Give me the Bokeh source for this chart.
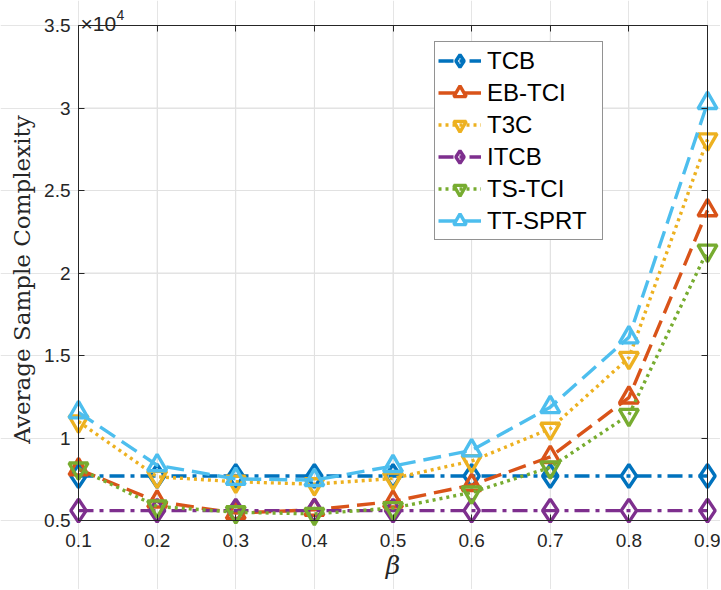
from bokeh.plotting import figure
from bokeh.models import LinearAxis, FixedTicker, Legend, LegendItem, Label, Range1d
from bokeh.embed import file_html
from bokeh.resources import INLINE

# ---------------- data ----------------
beta = [0.1, 0.2, 0.3, 0.4, 0.5, 0.6, 0.7, 0.8, 0.9]
# average sample complexity, in units of 10^4
tcb = [0.77, 0.77, 0.77, 0.77, 0.77, 0.77, 0.77, 0.77, 0.77]
eb_tci = [0.81, 0.615, 0.545, 0.565, 0.615, 0.715, 0.885, 1.245, 2.38]
t3c = [1.10, 0.765, 0.735, 0.72, 0.755, 0.86, 1.056, 1.486, 2.81]
itcb = [0.56, 0.56, 0.56, 0.56, 0.56, 0.56, 0.56, 0.56, 0.56]
ts_tci = [0.815, 0.585, 0.55, 0.54, 0.575, 0.67, 0.822, 1.14, 2.136]
tt_sprt = [1.155, 0.835, 0.752, 0.745, 0.83, 0.925, 1.187, 1.61, 3.03]

series_names = ["TCB", "EB-TCI", "T3C", "ITCB", "TS-TCI", "TT-SPRT"]
series_values = [tcb, eb_tci, t3c, itcb, ts_tci, tt_sprt]

x_ticks = [0.1, 0.2, 0.3, 0.4, 0.5, 0.6, 0.7, 0.8, 0.9]
x_tick_labels = ["0.1", "0.2", "0.3", "0.4", "0.5", "0.6", "0.7", "0.8", "0.9"]
y_ticks = [0.5, 1.0, 1.5, 2.0, 2.5, 3.0, 3.5]
y_tick_labels = ["0.5", "1", "1.5", "2", "2.5", "3", "3.5"]
x_label = "β"
y_label = "Average Sample Complexity"
exp_base = "×10"
exp_power = "4"

# ---------------- styles / layout ----------------
colors = ["#0072BD", "#D95319", "#EDB120", "#7E2F8E", "#77AC30", "#4DBEEE"]
dashes = ["15 6 4 6", "18 8", "3 4", "15 6 4 6", "3 4", "18 8"]
markers = ["diamond", "triangle", "inverted_triangle", "diamond", "inverted_triangle", "triangle"]
msizes = [23, 19, 19, 23, 19, 19]
AX = "#262626"
GRID = "#e1e1e1"
LW = 3.4

W, H = 720, 589
BOX_L, BOX_R, BOX_T, BOX_B = 78, 707, 25, 520   # pixel box of the axes

x0, x1 = x_ticks[0], x_ticks[-1]
y0, y1 = y_ticks[0], y_ticks[-1]
ppx = (BOX_R - BOX_L) / (x1 - x0)
ppy = (BOX_B - BOX_T) / (y1 - y0)
x_range = Range1d(x0 - BOX_L / ppx, x1 + (W - BOX_R) / ppx)
y_range = Range1d(y0 - (H - BOX_B) / ppy, y1 + BOX_T / ppy)

p = figure(frame_width=W, frame_height=H, x_range=x_range, y_range=y_range,
           min_border_left=0, min_border_right=0, min_border_top=0, min_border_bottom=0,
           output_backend="svg", toolbar_location=None,
           x_axis_location=None, y_axis_location=None)
p.outline_line_color = None
p.background_fill_color = "white"
p.border_fill_color = "white"

# grid lines restricted to the axes box
p.segment(x0=x_ticks, y0=[y0] * len(x_ticks), x1=x_ticks, y1=[y1] * len(x_ticks),
          line_color=GRID, line_width=1)
p.segment(x0=[x0] * len(y_ticks), y0=y_ticks, x1=[x1] * len(y_ticks), y1=y_ticks,
          line_color=GRID, line_width=1)


def style_axis(ax, ticks, labels, show_labels):
    ax.ticker = FixedTicker(ticks=ticks)
    ax.major_label_overrides = {t: l for t, l in zip(ticks, labels)}
    ax.axis_line_color = AX
    ax.axis_line_width = 1
    ax.major_tick_line_color = AX
    ax.major_tick_line_width = 1
    ax.major_tick_in = 6
    ax.major_tick_out = 0
    ax.minor_tick_line_color = None
    ax.minor_tick_in = 0
    ax.minor_tick_out = 0
    if show_labels:
        ax.major_label_text_font = "Liberation Sans"
        ax.major_label_text_font_size = "19px"
        ax.major_label_text_color = AX
    else:
        ax.major_label_text_font_size = "0px"
        ax.major_label_text_color = None
        ax.major_label_standoff = 0


bottom = LinearAxis(bounds=(x0, x1), fixed_location=y0)
style_axis(bottom, x_ticks, x_tick_labels, True)
bottom.major_label_standoff = 13
bottom.axis_label = x_label
bottom.axis_label_text_font = "DejaVu Serif"
bottom.axis_label_text_font_style = "italic"
bottom.axis_label_text_font_size = "25px"
bottom.axis_label_text_color = AX
bottom.axis_label_standoff = 1
p.add_layout(bottom, "below")

left = LinearAxis(bounds=(y0, y1), fixed_location=x0)
style_axis(left, y_ticks, y_tick_labels, True)
left.major_label_standoff = 8
p.add_layout(left, "left")

# y-axis title carried by a bare axis (no line, ticks or labels)
ytitle = LinearAxis(bounds=(y0 - 0.08, y1), fixed_location=x0)
ytitle.ticker = FixedTicker(ticks=[])
ytitle.axis_line_color = None
ytitle.major_tick_line_color = None
ytitle.minor_tick_line_color = None
ytitle.major_tick_in = 0
ytitle.major_tick_out = 0
ytitle.minor_tick_in = 0
ytitle.minor_tick_out = 0
ytitle.major_label_text_font_size = "0px"
ytitle.major_label_standoff = 0
ytitle.axis_label = y_label
ytitle.axis_label_text_font = "DejaVu Serif"
ytitle.axis_label_text_font_style = "normal"
ytitle.axis_label_text_font_size = "23px"
ytitle.axis_label_text_color = AX
ytitle.axis_label_standoff = 44
p.add_layout(ytitle, "left")

top = LinearAxis(bounds=(x0, x1), fixed_location=y1)
style_axis(top, x_ticks, x_tick_labels, False)
p.add_layout(top, "above")

right = LinearAxis(bounds=(y0, y1), fixed_location=x1)
style_axis(right, y_ticks, y_tick_labels, False)
p.add_layout(right, "right")

items = []
for name, vals, c, d, m, s in zip(series_names, series_values, colors, dashes, markers, msizes):
    lr = p.line(beta, vals, line_color=c, line_width=LW, line_dash=d)
    sr = p.scatter(beta, vals, marker=m, size=s, line_color=c, line_width=LW, fill_color=None)
    items.append(LegendItem(label=name, renderers=[lr, sr]))

GH = 31
SP = 1
LPAD = 3
n = len(items)
leg_h = 2 * LPAD + n * GH + (n - 1) * SP
LEG_L, LEG_T = 434, 43
legend = Legend(items=items, location=(LEG_L, H - LEG_T - leg_h),
                glyph_width=43, glyph_height=GH, label_height=GH, spacing=SP,
                padding=LPAD, margin=0, label_standoff=6, label_width=112,
                label_text_font="Liberation Sans", label_text_font_size="24px",
                label_text_color="black",
                border_line_color=AX, border_line_width=1,
                background_fill_color="white", background_fill_alpha=1)
p.add_layout(legend)

# exponent above the y axis
p.add_layout(Label(x=x0, y=y1, x_offset=2, y_offset=2, text=exp_base,
                   text_align="left", text_baseline="alphabetic",
                   text_font="Liberation Sans", text_font_size="21px", text_color=AX))
p.add_layout(Label(x=x0, y=y1, x_offset=38, y_offset=11, text=exp_power,
                   text_align="left", text_baseline="alphabetic",
                   text_font="Liberation Sans", text_font_size="14px", text_color=AX))

open("out.html", "w").write(file_html(p, INLINE))
